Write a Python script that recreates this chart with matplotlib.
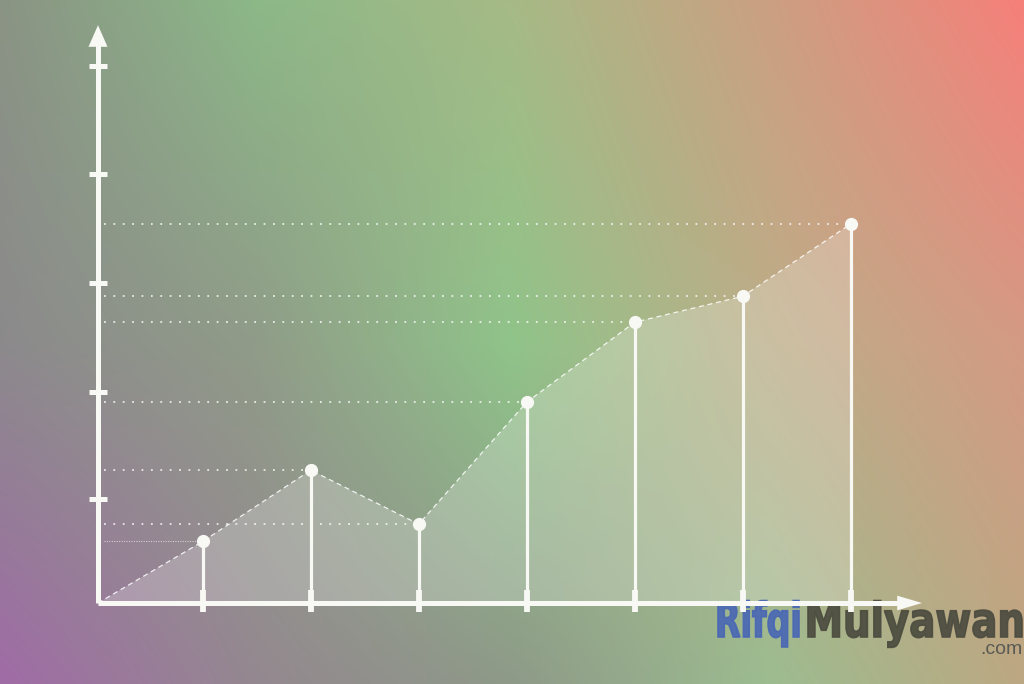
import numpy as np
import matplotlib
matplotlib.use("Agg")
import matplotlib.pyplot as plt
from matplotlib.colors import to_rgb
from matplotlib.patches import Polygon, PathPatch
from matplotlib.textpath import TextPath
from matplotlib.font_manager import FontProperties
from matplotlib.transforms import Affine2D

# data (chart units, origin at axes corner)
x_pos = [0.97, 1.97, 2.97, 3.97, 4.97, 5.97, 6.97]
values = [0.57, 1.23, 0.73, 1.86, 2.60, 2.84, 3.51]
y_ticks = [0.96, 1.95, 2.96, 3.97, 4.97]

# background colour grid (rows: top, middle, bottom)
bg_top = ['#8a9484', '#8cb888', '#a6ba86', '#cba082', '#f6807a']
bg_mid = ['#8c8a8c', '#909c88', '#90c48a', '#bcae88', '#d49a84']
bg_bot = ['#a06ca6', '#948890', '#8e9a88', '#9cbc90', '#bca882']


def gradient(rows, w=256, h=171):
  grid = np.array([[to_rgb(c) for c in r] for r in rows])  # (nr, nc, 3)
  nr, nc = grid.shape[:2]
  xs = np.linspace(0, nc - 1, w)
  ys = np.linspace(0, nr - 1, h)
  tmp = np.zeros((nr, w, 3))
  for i in range(nr):
    for k in range(3):
      tmp[i, :, k] = np.interp(xs, np.arange(nc), grid[i, :, k])
  out = np.zeros((h, w, 3))
  for j in range(w):
    for k in range(3):
      out[:, j, k] = np.interp(ys, np.arange(nr), tmp[:, j, k])
  return out


W, H = 1024, 684
ox, oy, unit = 98, 603, 108.0

fig = plt.figure(figsize=(W / 100, H / 100), dpi=100)
ax = fig.add_axes([0, 0, 1, 1])
x0, x1 = -ox / unit, (W - ox) / unit
y0, y1 = -(H - oy) / unit, oy / unit
ax.set_xlim(x0, x1)
ax.set_ylim(y0, y1)
ax.axis('off')

ax.imshow(gradient([bg_top, bg_mid, bg_bot]), extent=[x0, x1, y0, y1],
          aspect='auto', interpolation='bicubic', zorder=0)

white = '#f8f8f4'

# filled area under the line
poly = [(0, 0)] + list(zip(x_pos, values)) + [(x_pos[-1], 0)]
ax.add_patch(Polygon(poly, closed=True, facecolor='white', alpha=0.22,
                     edgecolor='none', zorder=1))
ax.plot([0] + x_pos, [0] + values, color='white', lw=0.9, alpha=0.85,
        dashes=(4, 3), zorder=2)

# dotted guide lines
for i, (xp, v) in enumerate(zip(x_pos, values)):
  if i == 0:
    ax.plot([0.06, xp], [v, v], color='white', lw=0.8, alpha=0.6,
            dashes=(1, 1.2), zorder=2)
  else:
    ax.plot([0.06, xp], [v, v], color='white', lw=1.3, alpha=0.8,
            dashes=(1, 4.2), zorder=2)


# watermark, squeezed into the box it takes in the picture (pixels)
def word(txt, xl, xr, base, cap, color, zorder=2.5):
  fp = FontProperties(family='DejaVu Sans', weight='bold')
  p = TextPath((0, 0), txt, size=100, prop=fp)
  e = p.get_extents()
  ch = TextPath((0, 0), 'H', size=100, prop=fp).get_extents().height
  sx, sy = (xr - xl) / e.width, cap / ch
  tr = Affine2D().scale(sx, sy).translate(xl - e.x0 * sx, H - base)
  pp = PathPatch(p, facecolor=color, edgecolor=color, lw=1.2, alpha=0.92,
                 transform=tr, zorder=zorder)
  ax.add_artist(pp)

word('Rifqi', 718, 799, 637, 35, '#4a68b4')
word('Mulyawan', 808, 1022, 637, 35, '#4c4c40')
fig.text(1022 / W, 1 - 654 / H, '.com', color='#5a5a55', fontsize=14,
         ha='right', va='baseline', family='Liberation Sans', zorder=5)

# stems and points
ax.vlines(x_pos, 0, values, color=white, lw=2.3, zorder=3)
ax.plot(x_pos, values, 'o', color=white, ms=8.5, zorder=4)

# axes with arrows
ax.plot([0, 0], [0, 5.17], color=white, lw=3.6, solid_capstyle='butt', zorder=3)
ax.plot([0, 7.42], [0, 0], color=white, lw=3.6, solid_capstyle='butt', zorder=3)
ax.add_patch(Polygon([(-0.088, 5.15), (0.088, 5.15), (0, 5.35)], closed=True,
                     facecolor=white, edgecolor='none', zorder=3))
ax.add_patch(Polygon([(7.40, 0.068), (7.40, -0.068), (7.63, 0)], closed=True,
                     facecolor=white, edgecolor='none', zorder=3))
for yt in y_ticks:
  ax.plot([-0.085, 0.085], [yt, yt], color=white, lw=3.6,
          solid_capstyle='butt', zorder=3)
for xp in x_pos:
  ax.plot([xp, xp], [-0.085, 0.12], color=white, lw=4.2,
          solid_capstyle='butt', zorder=3)

fig.savefig('out.png', dpi=100)
